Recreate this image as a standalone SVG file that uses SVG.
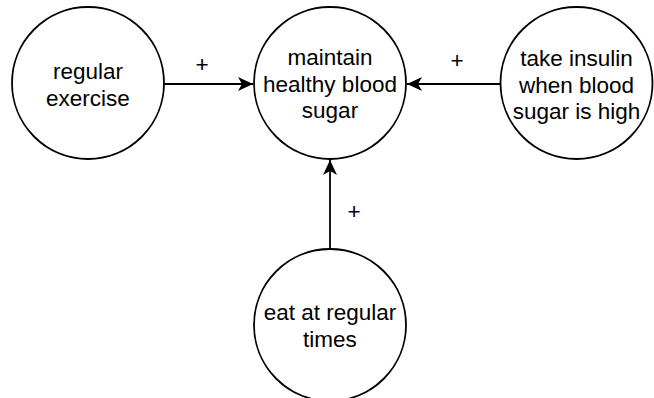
<svg xmlns="http://www.w3.org/2000/svg" width="654" height="398" viewBox="0 0 654 398">
<defs>
<style>
.node{fill:#fff;stroke:#000;stroke-width:1.8}
.lbl{font-family:"Liberation Sans",Arial,sans-serif;font-size:22.5px;fill:#000;text-anchor:middle}
.edge{stroke:#000;stroke-width:1.8;fill:none}
</style>
<marker id="arr" viewBox="0 0 15 14" refX="15" refY="7" markerWidth="15" markerHeight="14" markerUnits="userSpaceOnUse" orient="auto">
<path d="M0,0 L15,7 L0,14 L4,7 Z" fill="#000"/>
</marker>
</defs>
<rect width="654" height="398" fill="#fff"/>
<g id="connectors">
<line class="edge" x1="164" y1="84" x2="253" y2="84" marker-end="url(#arr)"/>
<line class="edge" x1="500" y1="84" x2="407" y2="84" marker-end="url(#arr)"/>
<line class="edge" x1="330" y1="249" x2="330" y2="160" marker-end="url(#arr)"/>
<text class="lbl" x="202" y="72">+</text>
<text class="lbl" x="457" y="68">+</text>
<text class="lbl" x="354" y="219">+</text>
</g>
<g id="node-exercise">
<circle class="node" cx="88" cy="83" r="76"/>
<text class="lbl" x="88" y="79">regular</text>
<text class="lbl" x="88" y="106">exercise</text>
</g>
<g id="node-maintain">
<circle class="node" cx="330" cy="83" r="76"/>
<text class="lbl" x="330" y="65">maintain</text>
<text class="lbl" x="330" y="92">healthy blood</text>
<text class="lbl" x="330" y="118">sugar</text>
</g>
<g id="node-insulin">
<circle class="node" cx="576.5" cy="83" r="76"/>
<text class="lbl" x="576.5" y="66">take insulin</text>
<text class="lbl" x="576.5" y="93">when blood</text>
<text class="lbl" x="576.5" y="119">sugar is high</text>
</g>
<g id="node-eat">
<circle class="node" cx="330" cy="325" r="76"/>
<text class="lbl" x="330" y="320">eat at regular</text>
<text class="lbl" x="330" y="347">times</text>
</g>
</svg>
